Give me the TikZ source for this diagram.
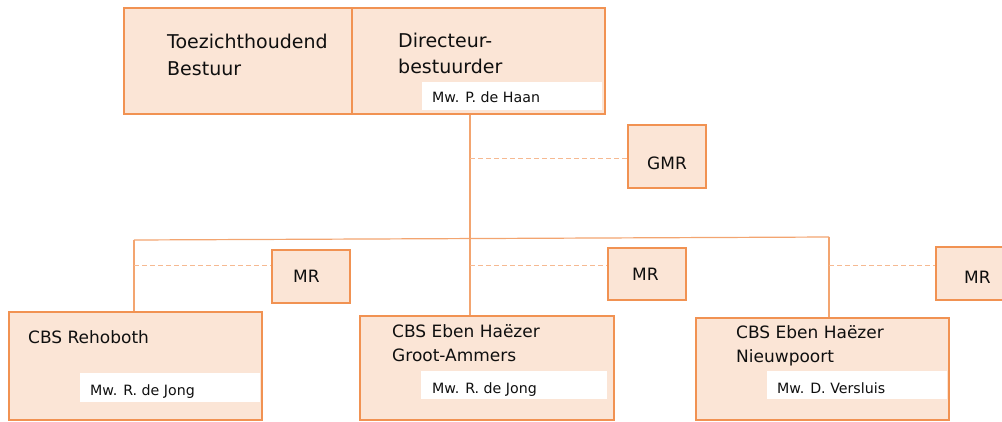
\documentclass[tikz,border=0pt]{standalone}
\usepackage{fontspec}
\setmainfont{DejaVu Sans}
\definecolor{peach}{RGB}{251,229,214}
\definecolor{obord}{RGB}{241,146,82}
\definecolor{oline}{RGB}{243,165,112}
\definecolor{odash}{RGB}{246,185,145}
\definecolor{txt}{RGB}{15,15,15}
\begin{document}
\begin{tikzpicture}[x=1pt,y=-1pt,
 box/.style={draw=obord,fill=peach,line width=1.5pt,anchor=north west,inner sep=0pt},
 namebox/.style={fill=white,anchor=north west,inner sep=0pt},
 bigtxt/.style={anchor=base west,inner sep=0pt,text=txt,font=\fontsize{19}{22}\selectfont},
 midtxt/.style={anchor=base west,inner sep=0pt,text=txt,font=\fontsize{17}{20}\selectfont},
 smalltxt/.style={anchor=base west,inner sep=0pt,text=txt,font=\fontsize{14.2}{16}\selectfont},
 conn/.style={draw=oline,line width=1.2pt},
 dconn/.style={draw=odash,line width=1pt,dash pattern=on 5pt off 3pt}]
\useasboundingbox (0,0) rectangle (1002,421);
\clip (0,0) rectangle (1002,421);

% top boxes
\node[box,minimum width=228pt,minimum height=106pt] (tb) at (123,7) {};
\node[box,minimum width=253pt,minimum height=106pt] (dir) at (351,7) {};
\node[bigtxt] (tb1) at (167,48) {Toezichthoudend};
\node[bigtxt] (tb2) at (167,75) {Bestuur};
\node[bigtxt] (dir1) at (398,47) {Directeur-};
\node[bigtxt] (dir2) at (398,73) {bestuurder};
\node[namebox,minimum width=180pt,minimum height=28pt] (haanbox) at (422,82) {};
\node[smalltxt] (haan) at (432,102) {Mw. P. de Haan};

% GMR
\node[box,minimum width=78pt,minimum height=63pt] (gmr) at (627,124) {};
\node[midtxt] (gmrt) at (647,169) {GMR};

% MR boxes
\node[box,minimum width=78pt,minimum height=53pt] (mr1) at (271,249) {};
\node[midtxt] (mr1t) at (293,282) {MR};
\node[box,minimum width=78pt,minimum height=52pt] (mr2) at (607,247) {};
\node[midtxt] (mr2t) at (632,280) {MR};
\node[box,minimum width=78pt,minimum height=53pt] (mr3) at (935,246) {};
\node[midtxt] (mr3t) at (964,283) {MR};

% schools
\node[box,minimum width=253pt,minimum height=108pt] (reh) at (8,311) {};
\node[midtxt] (reht) at (28,343) {CBS Rehoboth};
\node[namebox,minimum width=180pt,minimum height=29pt] (rehnb) at (80,373) {};
\node[smalltxt] (rehn) at (90,395) {Mw. R. de Jong};

\node[box,minimum width=254pt,minimum height=104pt] (ga) at (359,315) {};
\node[midtxt] (ga1) at (392,337) {CBS Eben Haëzer};
\node[midtxt] (ga2) at (392,361) {Groot-Ammers};
\node[namebox,minimum width=186pt,minimum height=28pt] (ganb) at (421,371) {};
\node[smalltxt] (gan) at (432,393) {Mw. R. de Jong};

\node[box,minimum width=253pt,minimum height=102pt] (nw) at (695,317) {};
\node[midtxt] (nw1) at (736,338) {CBS Eben Haëzer};
\node[midtxt] (nw2) at (736,362) {Nieuwpoort};
\node[namebox,minimum width=180pt,minimum height=28pt] (nwnb) at (767,371) {};
\node[smalltxt] (nwn) at (777,393) {Mw. D. Versluis};

% connectors
\coordinate (mj) at (470,238);
\coordinate (lj) at (134,240);
\coordinate (rj) at (829,237);
\coordinate (g1) at (627,158);
\coordinate (m1) at (271,265);
\coordinate (m2) at (607,265);
\coordinate (m3) at (935,265);
\draw[conn] (dir.south -| mj) -- (ga.north -| mj);
\draw[conn] (lj) -- (rj);
\draw[conn] (lj) -- (reh.north -| lj);
\draw[conn] (rj) -- (nw.north -| rj);
\draw[dconn] (g1 -| mj) -- (g1);
\draw[dconn] (m1 -| lj) -- (m1);
\draw[dconn] (m2 -| mj) -- (m2);
\draw[dconn] (m3 -| rj) -- (m3);
\end{tikzpicture}
\end{document}
